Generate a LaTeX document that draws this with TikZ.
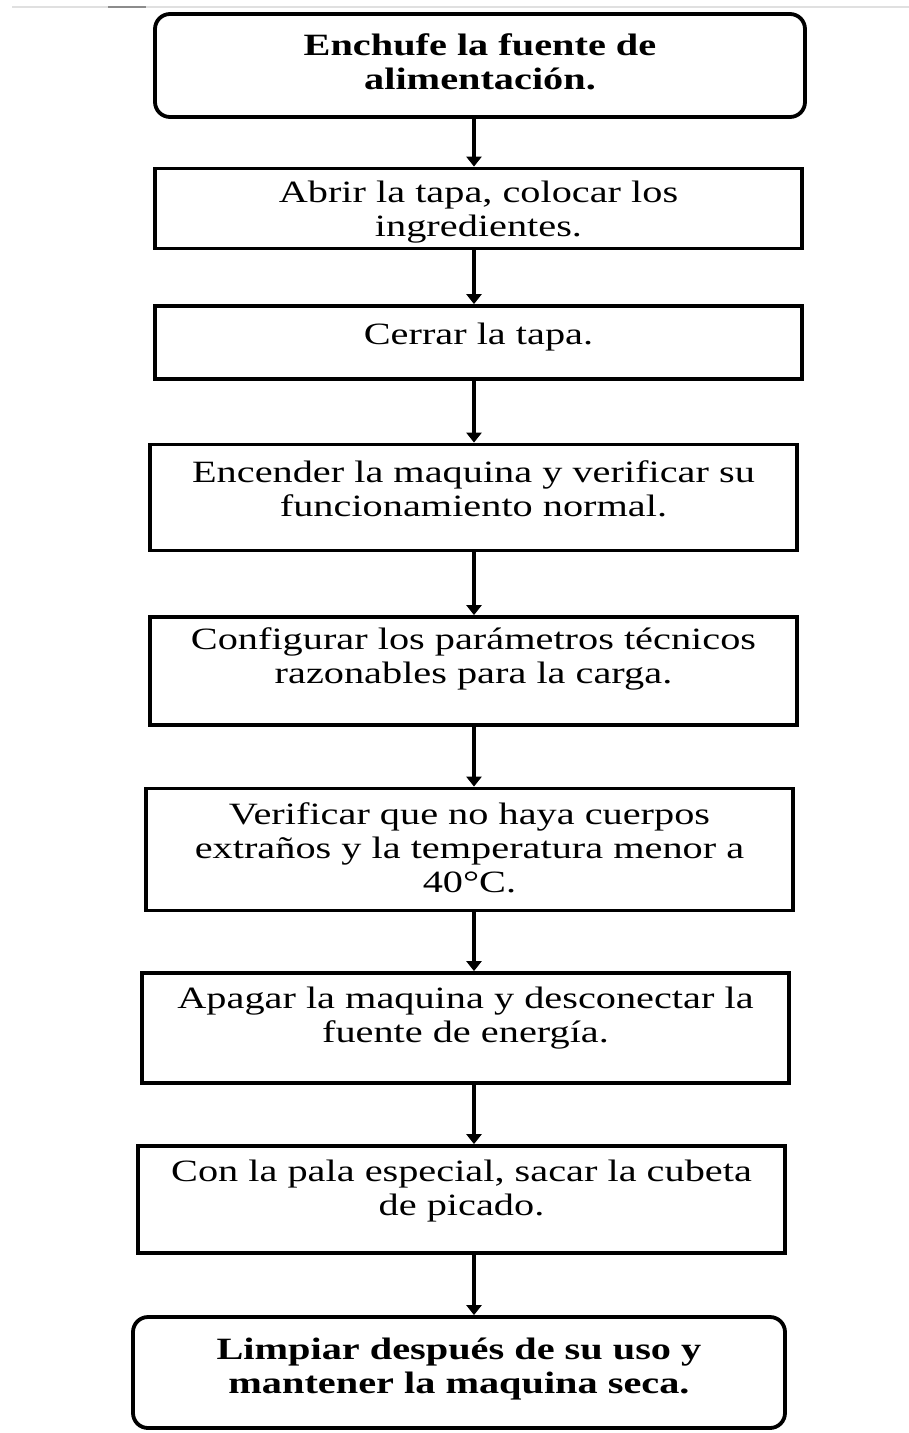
\documentclass[tikz,border=0pt]{standalone}
\usepackage{fontspec}
\setmainfont{Liberation Serif}[FakeStretch=1.3]
\usetikzlibrary{arrows.meta}
\tikzset{
  stepbox/.style={draw=black, line width=3.8pt, rectangle, inner sep=0pt},
  endbox/.style={stepbox, rounded corners=15pt},
  txt/.style={align=center, inner sep=0pt, font=\fontsize{31}{34}\selectfont},
  btxt/.style={txt, font=\fontsize{31}{34}\selectfont\bfseries},
  arr/.style={draw=black, line width=3.4pt, -{Triangle[width=15pt,length=10pt]}},
}
\begin{document}
\begin{tikzpicture}[x=1pt,y=-1pt]
\useasboundingbox (0,0) rectangle (909,1433);
% top gray rule
\draw[black!12, line width=2pt] (12,7) -- (909,7);
\draw[black!45, line width=2.5pt] (108,7) -- (146,7);

% boxes
\node[endbox,  minimum width=650pt, minimum height=103pt] (b1) at (480,65.5) {};
\node[stepbox, minimum width=647pt, minimum height=80pt]  (b2) at (478.5,208.5) {};
\node[stepbox, minimum width=647pt, minimum height=73pt]  (b3) at (478.5,342.5) {};
\node[stepbox, minimum width=647pt, minimum height=106pt] (b4) at (473.5,497.5) {};
\node[stepbox, minimum width=647pt, minimum height=108pt] (b5) at (473.5,671) {};
\node[stepbox, minimum width=647pt, minimum height=122pt] (b6) at (469.5,849.5) {};
\node[stepbox, minimum width=647pt, minimum height=110pt] (b7) at (465.5,1028) {};
\node[stepbox, minimum width=647pt, minimum height=107pt] (b8) at (461.5,1199.5) {};
\node[endbox,  minimum width=652pt, minimum height=111pt] (b9) at (459,1372.5) {};

% texts
\node[btxt] (t1) at (480,62) {Enchufe la fuente de\\alimentación.};
\node[txt] (t2) at (478.5,212) {Abrir la tapa, colocar los\\ingredientes.};
\node[txt] (t3) at (478.5,337) {Cerrar la tapa.};
\node[txt] (t4) at (473.5,489) {Encender la maquina y verificar su\\funcionamiento normal.};
\node[txt] (t5) at (473.5,659) {Configurar los parámetros técnicos\\razonables para la carga.};
\node[txt] (t6) at (469.5,848) {Verificar que no haya cuerpos\\extraños y la temperatura menor a\\40°C.};
\node[txt] (t7) at (465.5,1018) {Apagar la maquina y desconectar la\\fuente de energía.};
\node[txt] (t8) at (461.5,1191) {Con la pala especial, sacar la cubeta\\de picado.};
\node[btxt] (t9) at (459,1369) {Limpiar después de su uso y\\mantener la maquina seca.};

% connectors
\coordinate (ax) at (474,0);
\draw[arr] (b1.south -| ax) -- (b2.north -| ax);
\draw[arr] (b2.south -| ax) -- (b3.north -| ax);
\draw[arr] (b3.south -| ax) -- (b4.north -| ax);
\draw[arr] (b4.south -| ax) -- (b5.north -| ax);
\draw[arr] (b5.south -| ax) -- (b6.north -| ax);
\draw[arr] (b6.south -| ax) -- (b7.north -| ax);
\draw[arr] (b7.south -| ax) -- (b8.north -| ax);
\draw[arr] (b8.south -| ax) -- (b9.north -| ax);
\end{tikzpicture}
\end{document}
